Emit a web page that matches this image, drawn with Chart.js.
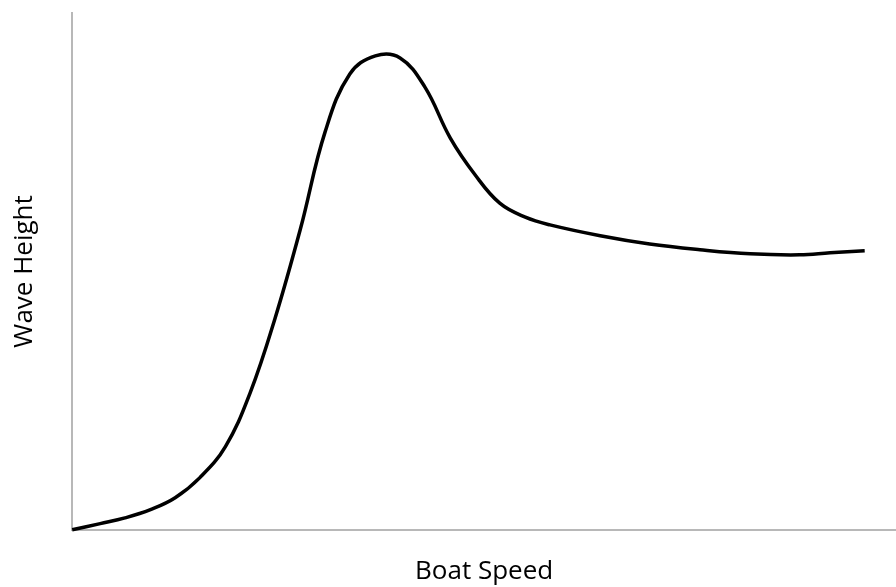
<!DOCTYPE html>
<html>
<head>
<meta charset="utf-8">
<script src="https://cdn.jsdelivr.net/npm/chart.js@4"></script>
<style>
  html, body { margin: 0; padding: 0; background: #fff; }
</style>
</head>
<body>
<canvas id="myChart" width="896" height="587"></canvas>
<script>
// boat speed (x) and wave height (y), both on a 0-100 scale
const boatSpeed = [0, 3.4, 6.4, 9.5, 12.5, 15.5, 18.6, 21.6, 24.6, 27.7, 30.7, 33.7, 36.8,
    39.8, 42.8, 45.9, 48.9, 51.9, 55.0, 58.0, 64.1, 70.1, 76.2, 82.3, 88.3, 92.0, 96.2];
const waveHeight = [0, 1.2, 2.3, 3.9, 6.2, 10.1, 16.1, 26.5, 40.8, 58.2, 77.0, 88.2, 91.7,
    91.3, 85.7, 75.8, 68.7, 63.2, 60.5, 59.0, 56.9, 55.3, 54.2, 53.4, 53.2, 53.6, 54.0];
const xTitle = 'Boat Speed';
const yTitle = 'Wave Height';

const points = boatSpeed.map((x, i) => ({ x: x, y: waveHeight[i] }));

const axisColor = '#b8b8b8';
const titleFont = { family: 'Open Sans', size: 26 };

const ctx = document.getElementById('myChart').getContext('2d');
new Chart(ctx, {
    type: 'line',
    data: {
        datasets: [
            {
                data: points,
                borderColor: '#000',
                borderWidth: 3.5,
                pointRadius: 0,
                tension: 0.4,
                clip: false
            }
        ]
    },
    options: {
        responsive: false,
        animation: false,
        devicePixelRatio: 1,
        layout: { padding: { top: 13, right: 0, left: 0, bottom: 0 } },
        plugins: { legend: { display: false }, tooltip: { enabled: false } },
        scales: {
            x: {
                type: 'linear',
                min: 0,
                max: 100,
                grid: { display: false, drawTicks: false },
                border: { display: true, color: axisColor, width: 2 },
                ticks: { display: false },
                title: {
                    display: true,
                    text: xTitle,
                    color: '#000',
                    font: titleFont,
                    padding: { top: 26, bottom: 0 }
                }
            },
            y: {
                min: 0,
                max: 100,
                grid: { display: false, drawTicks: false },
                border: { display: true, color: axisColor, width: 2 },
                ticks: { display: false },
                title: {
                    display: true,
                    text: yTitle,
                    color: '#000',
                    font: titleFont,
                    padding: { top: 9, bottom: 32 }
                }
            }
        }
    }
});
</script>
</body>
</html>
